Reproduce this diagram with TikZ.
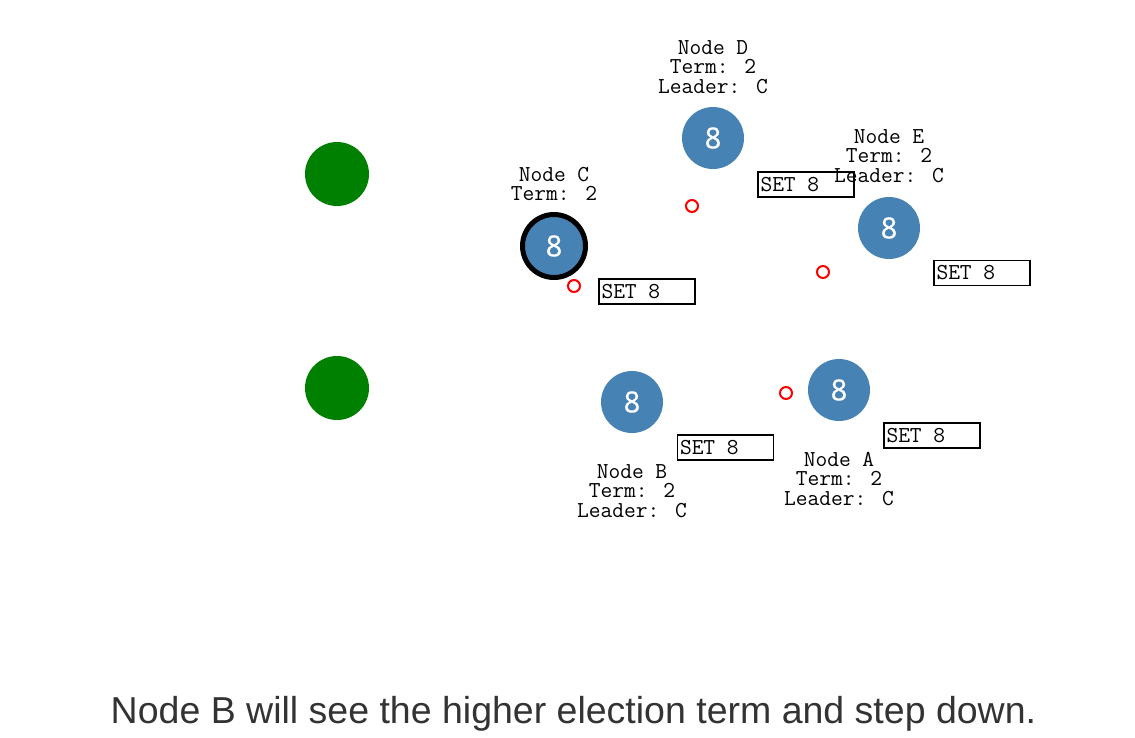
\documentclass[tikz,border=0pt]{standalone}
\usepackage{fontspec}
\setmainfont{Liberation Sans}
\newfontfamily\digitfont[FakeBold=0.6]{Open Sans}
\usepackage{xcolor}

\definecolor{peerblue}{RGB}{70,130,180}
\definecolor{clientgreen}{RGB}{0,128,0}
\definecolor{captiongray}{RGB}{51,51,51}

\newcommand{\logtext}[1]{\makebox[91pt][l]{#1}}

\tikzset{
  peer/.style = {shape = circle, fill = peerblue, minimum size = 62pt, inner sep = 0pt,
                 text = white, font = \digitfont\fontsize{29}{29}\selectfont},
  leader/.style = {peer, draw = black, line width = 5pt, minimum size = 63pt},
  client/.style = {shape = circle, fill = clientgreen, minimum size = 64pt},
  msg/.style = {shape = circle, draw = red, line width = 2pt, minimum size = 12pt, inner sep = 0pt},
  logbox/.style = {draw = black, line width = 1.2pt, minimum width = 96pt, minimum height = 25pt,
                   inner xsep = 2.5pt, inner ysep = 0pt,
                   font = \ttfamily\fontsize{22.8}{22.8}\selectfont},
  status/.style = {align = center, inner sep = 0pt,
                   font = \ttfamily\fontsize{22.8}{19.5}\selectfont}
}

\begin{document}
\begin{tikzpicture}[x = 1pt, y = -1pt]
\useasboundingbox (0, 0) rectangle (1135, 737);

\node [client] (client0) at (337, 174) {};
\node [client] (client1) at (337, 388) {};

\node [leader] (nodeC) at (554, 246) {8};
\node [status] (statusC) at (554, 184) {Node C\\Term: 2};
\node [msg] (msgC) at (574, 286) {};
\node [logbox] (logC) at (647, 291.5) {\logtext{SET 8}};

\node [peer] (nodeD) at (713, 138) {8};
\node [status] (statusD) at (713, 67) {Node D\\Term: 2\\Leader: C};
\node [msg] (msgD) at (692, 206) {};
\node [logbox] (logD) at (806, 184.5) {\logtext{SET 8}};

\node [peer] (nodeE) at (889, 228) {8};
\node [status] (statusE) at (889, 156) {Node E\\Term: 2\\Leader: C};
\node [msg] (msgE) at (823, 272) {};
\node [logbox] (logE) at (982, 273) {\logtext{SET 8}};

\node [peer] (nodeB) at (632, 402) {8};
\node [status] (statusB) at (632, 491) {Node B\\Term: 2\\Leader: C};
\node [logbox] (logB) at (725.5, 447.5) {\logtext{SET 8}};

\node [peer] (nodeA) at (839, 390) {8};
\node [status] (statusA) at (839, 479) {Node A\\Term: 2\\Leader: C};
\node [msg] (msgA) at (786, 393) {};
\node [logbox] (logA) at (932, 435.5) {\logtext{SET 8}};

\node [text = captiongray, font = \fontsize{37.5}{37.5}\selectfont, anchor = base] (caption) at (573.5, 723)
  {Node B will see the higher election term and step down.};

\end{tikzpicture}
\end{document}
